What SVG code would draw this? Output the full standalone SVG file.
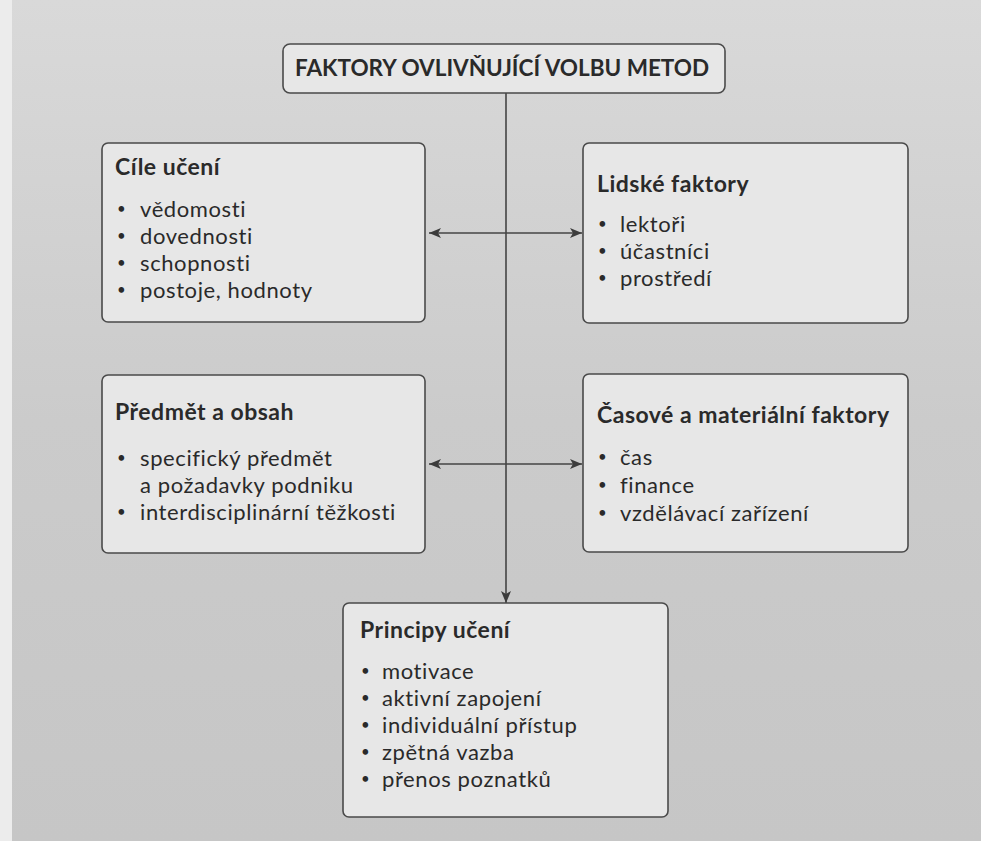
<svg xmlns="http://www.w3.org/2000/svg" width="981" height="841" viewBox="0 0 981 841">
<defs>
<linearGradient id="bg" x1="0" y1="0" x2="0" y2="1">
<stop offset="0" stop-color="#d9d9d9"/>
<stop offset="0.5" stop-color="#cbcbcb"/>
<stop offset="1" stop-color="#c6c6c6"/>
</linearGradient>
<marker id="ah" viewBox="0 0 12 10" refX="12" refY="5" markerWidth="12" markerHeight="10" markerUnits="userSpaceOnUse" orient="auto-start-reverse">
<path d="M0,0 L12,5 L0,10 L3,5 Z" fill="#3c3c3c"/>
</marker>
<style>
.box{fill:#e7e7e7;stroke:#4a4a4a;stroke-width:1.6}
.t{font-family:Lato,"Open Sans","Liberation Sans",sans-serif;fill:#2a2a2a}
.h{font-weight:bold;font-size:23px;letter-spacing:0.5px}
.b{font-size:22px;letter-spacing:0.6px}
.d{font-size:15px}
.hd{font-weight:bold;font-size:22.5px}
.ln{stroke:#444;stroke-width:1.6;fill:none}
</style>
</defs>
<rect x="0" y="0" width="981" height="841" fill="url(#bg)"/>
<rect x="0" y="0" width="12" height="841" fill="#ececec"/>

<g id="connectors">
<line class="ln" x1="506" y1="93" x2="506" y2="603" marker-end="url(#ah)"/>
<line class="ln" x1="429" y1="233" x2="582" y2="233" marker-start="url(#ah)" marker-end="url(#ah)"/>
<line class="ln" x1="429" y1="464" x2="582" y2="464" marker-start="url(#ah)" marker-end="url(#ah)"/>
</g>

<g id="header">
<rect class="box" x="283" y="44" width="442" height="49" rx="7"/>
<text class="t hd" x="295" y="76">FAKTORY OVLIVŇUJÍCÍ VOLBU METOD</text>
</g>

<g id="cile">
<rect class="box" x="102" y="143" width="323" height="179" rx="6"/>
<text class="t h" x="115" y="175">Cíle učení</text>
<text class="t d" x="117" y="214">•</text><text class="t b" x="140" y="217">vědomosti</text>
<text class="t d" x="117" y="241">•</text><text class="t b" x="140" y="244">dovednosti</text>
<text class="t d" x="117" y="268">•</text><text class="t b" x="140" y="271">schopnosti</text>
<text class="t d" x="117" y="295">•</text><text class="t b" x="140" y="298">postoje, hodnoty</text>
</g>

<g id="lidske">
<rect class="box" x="583" y="143" width="325" height="180" rx="6"/>
<text class="t h" x="597" y="192">Lidské faktory</text>
<text class="t d" x="598" y="229">•</text><text class="t b" x="620" y="232">lektoři</text>
<text class="t d" x="598" y="256">•</text><text class="t b" x="620" y="259">účastníci</text>
<text class="t d" x="598" y="283">•</text><text class="t b" x="620" y="286">prostředí</text>
</g>

<g id="predmet">
<rect class="box" x="102" y="375" width="323" height="178" rx="6"/>
<text class="t h" x="115" y="420">Předmět a obsah</text>
<text class="t d" x="117" y="463">•</text><text class="t b" x="140" y="466">specifický předmět</text>
<text class="t b" x="140" y="493">a požadavky podniku</text>
<text class="t d" x="117" y="517">•</text><text class="t b" x="140" y="520">interdisciplinární těžkosti</text>
</g>

<g id="casove">
<rect class="box" x="583" y="374" width="325" height="178" rx="6"/>
<text class="t h" x="597" y="423">Časové a materiální faktory</text>
<text class="t d" x="598" y="462">•</text><text class="t b" x="620" y="465">čas</text>
<text class="t d" x="598" y="490">•</text><text class="t b" x="620" y="493">finance</text>
<text class="t d" x="598" y="518">•</text><text class="t b" x="620" y="521">vzdělávací zařízení</text>
</g>

<g id="principy">
<rect class="box" x="343" y="603" width="325" height="214" rx="6"/>
<text class="t h" x="360" y="638">Principy učení</text>
<text class="t d" x="361" y="676">•</text><text class="t b" x="382" y="679">motivace</text>
<text class="t d" x="361" y="703">•</text><text class="t b" x="382" y="706">aktivní zapojení</text>
<text class="t d" x="361" y="730">•</text><text class="t b" x="382" y="733">individuální přístup</text>
<text class="t d" x="361" y="757">•</text><text class="t b" x="382" y="760">zpětná vazba</text>
<text class="t d" x="361" y="784">•</text><text class="t b" x="382" y="787">přenos poznatků</text>
</g>
</svg>
